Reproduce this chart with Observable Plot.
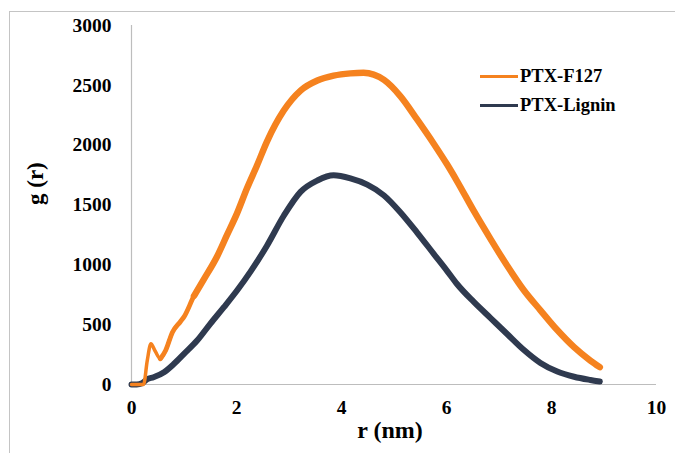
<!DOCTYPE html>
<html>
<head>
<meta charset="utf-8">
<script src="https://cdn.jsdelivr.net/npm/d3@7"></script>
<script src="https://cdn.jsdelivr.net/npm/@observablehq/plot@0.6"></script>
<style>
  html, body { margin: 0; padding: 0; background: #fff; overflow: hidden; }
  #wrap { position: relative; width: 675px; height: 453px; overflow: hidden; font-family: "Liberation Serif", "Times New Roman", serif; }
  #frame { position: absolute; left: 9px; top: 11px; width: 800px; height: 600px; border-left: 1px solid #c4c4c4; border-top: 1px solid #c4c4c4; }
  #chart { position: absolute; left: 0; top: 0; }
  .legend { position: absolute; left: 480px; font-weight: bold; font-size: 18.5px; color: #000; display: flex; align-items: center; }
  .legend .sw { display: inline-block; width: 38px; height: 3px; margin-right: 2px; }
</style>
</head>
<body>
<div id="wrap">
  <div id="frame"></div>
  <div id="chart"></div>
  <div class="legend" style="top:66px"><span class="sw" style="background:#F5821F"></span>PTX-F127</div>
  <div class="legend" style="top:95px"><span class="sw" style="background:#2F3A4F"></span>PTX-Lignin</div>
</div>
<script>
// Series names
const seriesNames = ["PTX-F127", "PTX-Lignin"];

// PTX-F127 (orange) — r (nm) and g(r)
const f127R = [0, 0.1, 0.2, 0.23, 0.3, 0.37, 0.45, 0.55, 0.65, 0.78, 0.93, 1.0, 1.19, 1.38, 1.63, 1.82, 2.01, 2.2, 2.39, 2.58, 2.9, 3.22, 3.54, 3.85, 4.17, 4.42, 4.81, 5.12, 5.44, 5.76, 6.01, 6.2, 6.52, 6.84, 7.16, 7.47, 7.79, 8.11, 8.43, 8.74, 8.92];
const f127G = [0, 0, 0, 0, 200, 340, 280, 215, 284, 437, 525, 565, 740, 880, 1070, 1250, 1430, 1640, 1830, 2030, 2289, 2456, 2540, 2581, 2600, 2605, 2545, 2410, 2215, 2010, 1840, 1700, 1450, 1215, 990, 790, 620, 455, 312, 200, 145];

// PTX-Lignin (navy)
const ligR = [0, 0.1, 0.2, 0.3, 0.42, 0.62, 0.81, 1.0, 1.25, 1.5, 1.76, 2.01, 2.27, 2.58, 2.9, 3.22, 3.54, 3.85, 4.17, 4.49, 4.81, 5.12, 5.44, 5.76, 6.01, 6.2, 6.52, 6.84, 7.16, 7.47, 7.79, 8.11, 8.43, 8.74, 8.92];
const ligG = [0, 0, 10, 45, 61, 103, 173, 256, 367, 507, 646, 785, 945, 1160, 1410, 1610, 1705, 1748, 1722, 1670, 1580, 1440, 1270, 1090, 950, 840, 690, 555, 420, 290, 180, 108, 65, 38, 25];

// Tick values
const xTicks = [0, 2, 4, 6, 8, 10];
const yTicks = [0, 500, 1000, 1500, 2000, 2500, 3000];

const f127 = f127R.map((r, i) => ({ r, g: f127G[i] }));
const lig = ligR.map((r, i) => ({ r, g: ligG[i] }));

const orange = "#F5821F";
const navy = "#2F3A4F";
const lineOpts = { x: "r", y: "g", strokeLinejoin: "round", strokeLinecap: "round", curve: "monotone-x" };

const chart = Plot.plot({
  width: 675,
  height: 453,
  marginLeft: 131,
  marginRight: 19,
  marginTop: 25,
  marginBottom: 69,
  style: { fontFamily: "Liberation Serif, Times New Roman, serif", fontWeight: "bold", fontSize: "19px", color: "#000", background: "transparent" },
  x: { domain: [0, 10] },
  y: { domain: [0, 3000] },
  marks: [
    Plot.axisX({ ticks: xTicks, tickSize: 0, tickPadding: 16, label: null, fontSize: 19.5, tickFormat: d => String(d) }),
    Plot.axisY({ ticks: yTicks, tickSize: 0, tickPadding: 20, label: null, fontSize: 19.5, tickFormat: d => String(d) }),
    Plot.ruleX([0], { stroke: "#bdbdbd", strokeWidth: 1.2 }),
    Plot.ruleY([0], { stroke: "#bdbdbd", strokeWidth: 1.2 }),
    Plot.line(lig, { ...lineOpts, stroke: navy, strokeWidth: 6 }),
    Plot.line(f127.filter(d => d.r <= 0.93), { ...lineOpts, stroke: orange, strokeWidth: 3.5 }),
    Plot.line(f127.filter(d => d.r >= 0.55 && d.r <= 1.63), { ...lineOpts, stroke: orange, strokeWidth: 4.8 }),
    Plot.line(f127.filter(d => d.r >= 1.19), { ...lineOpts, stroke: orange, strokeWidth: 6.5 }),
    Plot.text(["r (nm)"], { frameAnchor: "bottom", dx: -4, dy: 53, fontSize: 24, fontWeight: "bold" }),
    Plot.text(["g (r)"], { frameAnchor: "left", dx: -96, rotate: -90, fontSize: 23, fontWeight: "bold" })
  ]
});
document.getElementById("chart").appendChild(chart);
</script>
</body>
</html>
